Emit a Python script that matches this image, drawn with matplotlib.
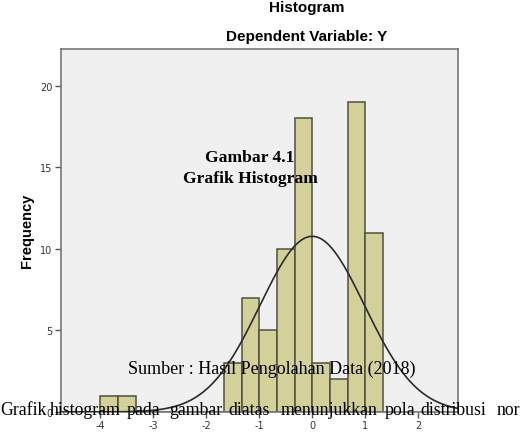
import numpy as np
import matplotlib
matplotlib.use("Agg")
import matplotlib.pyplot as plt

# Data
bin_edges = [-4.0, -3.667, -3.333, -3.0, -2.667, -2.333, -2.0, -1.667, -1.333,
             -1.0, -0.667, -0.333, 0.0, 0.333, 0.667, 1.0, 1.333]
counts = [1, 1, 0, 0, 0, 0, 0, 3, 7, 5, 10, 18, 3, 2, 19, 11]
mean = 0.0
std_dev = 0.987
n_total = 80
x_ticks = [-4, -3, -2, -1, 0, 1, 2]
y_ticks = [0, 5, 10, 15, 20]

W, H = 520, 439
fig = plt.figure(figsize=(W / 100, H / 100), dpi=100)
fig.patch.set_facecolor("white")

left, right, top, bottom = 61, 458, 50, 413
ax = fig.add_axes([left / W, 1 - bottom / H, (right - left) / W, (bottom - top) / H])
ax.set_facecolor("#F0F0F0")

lefts = bin_edges[:-1]
widths = [b - a for a, b in zip(bin_edges[:-1], bin_edges[1:])]
ax.bar(lefts, counts, width=widths, align="edge", color="#D4D09A",
       edgecolor="#4f4f42", linewidth=1.1, zorder=2)

xmin, xmax = -4.74, 2.75
ax.set_xlim(xmin, xmax)
ax.set_ylim(0, 22.25)

bw = widths[0]
xs = np.linspace(xmin, xmax, 400)
ys = n_total * bw / (std_dev * np.sqrt(2 * np.pi)) * np.exp(-0.5 * ((xs - mean) / std_dev) ** 2)
ax.plot(xs, ys, color="#2b2b2b", linewidth=1.2, zorder=3)

ax.set_xticks(x_ticks)
ax.set_xticklabels([str(t) for t in x_ticks])
ax.set_yticks(y_ticks)
ax.set_yticklabels([str(t) for t in y_ticks])
ax.tick_params(axis="both", direction="out", length=4, width=1, color="#555555",
               labelsize=7, labelcolor="#333333", pad=2)
for s in ax.spines.values():
    s.set_color("#777777")
    s.set_linewidth(1.2)

fig.text(27 / W, 1 - 231 / H, "Frequency", rotation=90, ha="center", va="center",
         fontsize=10.5, fontweight="bold", family="Liberation Sans")

fig.text(307 / W, 1 - 8 / H, "Histogram", ha="center", va="center",
         fontsize=11, fontweight="bold", family="Liberation Sans")
fig.text(307 / W, 1 - 37 / H, "Dependent Variable: Y", ha="center", va="center",
         fontsize=11, fontweight="bold", family="Liberation Sans")

# Overlaid document text
fig.text(250 / W, 1 - 158 / H, "Gambar 4.1", ha="center", va="center",
         fontsize=12.6, fontweight="bold", family="Liberation Serif")
fig.text(250 / W, 1 - 179 / H, "Grafik Histogram", ha="center", va="center",
         fontsize=12.6, fontweight="bold", family="Liberation Serif")
fig.text(272 / W, 1 - 369 / H, "Sumber : Hasil Pengolahan Data (2018)", ha="center",
         va="center", fontsize=13, family="Liberation Serif")

words = ["Grafik", "histogram", "pada", "gambar", "diatas", "menunjukkan",
         "pola", "distribusi", "nor"]
word_x = [0, 50, 127, 169, 228, 281, 385, 420, 497]
for w, xp in zip(words, word_x):
    fig.text(xp / W, 1 - 411 / H, w, ha="left", va="center",
             fontsize=12.8, family="Liberation Serif")

fig.savefig("out.png", dpi=100)
